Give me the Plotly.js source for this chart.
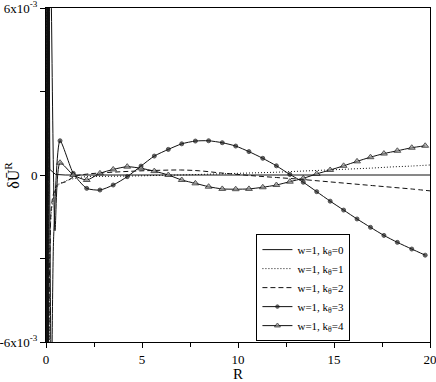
<!DOCTYPE html>
<html>
<head>
<meta charset="utf-8">
<script src="https://cdn.plot.ly/plotly-3.0.1.min.js"></script>
<style>
  html, body { margin: 0; padding: 0; background: #fff; }
  #chart { width: 436px; height: 382px; }
</style>
</head>
<body>
<div id="chart"></div>
<script>
// values in units of 1e-3

// k=0 : flat zero with blow-up at R->0
const k0R = [0.01, 0.04, 0.07, 0.1, 0.14, 0.2, 0.5, 1, 5, 10, 15, 20];
const k0V = [9, -9, 9, -9, 9, 0.2, 0.02, 0, 0, 0, 0, 0];

// k=1 : dotted
const k1R = [0.02, 0.06, 0.1, 0.16, 0.3, 0.6, 0.9, 1.5, 2.1, 3, 4, 5, 6, 7, 8, 9, 10, 11, 12, 13, 14, 15, 16, 17, 18, 19, 20];
const k1V = [9, -9, 9, -6, -1.2, -0.4, -0.25, -0.12, -0.06, -0.05, -0.04, -0.03, -0.01, 0.0, 0.02, 0.04, 0.06, 0.08, 0.1, 0.13, 0.16, 0.19, 0.22, 0.25, 0.29, 0.32, 0.36];

// k=2 : dashed
const k2R = [0.03, 0.08, 0.13, 0.2, 0.35, 0.6, 1.0, 1.5, 2.1, 3, 4, 5, 6, 7, 8, 9, 10, 11, 12, 13, 14, 15, 16, 17, 18, 19, 20];
const k2V = [-9, 9, -9, -3, -0.8, -0.35, -0.25, -0.05, 0.03, 0.08, 0.12, 0.15, 0.17, 0.18, 0.15, 0.08, 0.02, -0.04, -0.09, -0.14, -0.2, -0.26, -0.32, -0.38, -0.44, -0.5, -0.57];

// marker positions shared by k=3 and k=4
const markR = [0.73, 1.42, 2.12, 2.81, 3.5, 4.23, 4.95, 5.64, 6.37, 7.07, 7.78, 8.47, 9.18, 9.88,
  10.57, 11.29, 12.0, 12.7, 13.4, 14.1, 14.8, 15.5, 16.2, 16.9, 17.6, 18.3, 19.05, 19.75];

// k=3 : circles
const k3PreR = [0.03, 0.1, 0.28, 0.4];
const k3PreV = [-9, 9, -8, -2.2];
const k3V = [1.23, 0.06, -0.48, -0.54, -0.36, -0.06, 0.32, 0.68, 0.92, 1.12, 1.22, 1.23, 1.16, 1.04,
  0.84, 0.6, 0.33, 0.02, -0.26, -0.6, -0.94, -1.26, -1.58, -1.88, -2.17, -2.42, -2.66, -2.88];

// k=4 : triangles
const k4PreR = [0.05, 0.12, 0.22, 0.47];
const k4PreV = [9, -9, 9, -2];
const k4V = [0.44, 0.0, -0.18, 0.06, 0.2, 0.3, 0.24, 0.14, 0.0, -0.18, -0.3, -0.42, -0.5, -0.51,
  -0.5, -0.44, -0.36, -0.24, -0.12, 0.04, 0.18, 0.33, 0.49, 0.64, 0.77, 0.87, 0.98, 1.05];

const legendNames = [0, 1, 2, 3, 4].map(k => `w=1, k<sub>θ</sub>=${k}`);

const ink = "#111";

function markedTrace(preR, preV, vals, name, marker) {
  const n = preR.length;
  const x = preR.concat(markR);
  const y = preV.concat(vals);
  return {
    x, y, name,
    type: "scatter",
    mode: "lines+markers",
    line: { color: ink, width: 1, shape: "spline", smoothing: 0.6 },
    marker: Object.assign({}, marker, { size: x.map((_, i) => i < n ? 0 : marker.size) })
  };
}

const traces = [
  { x: k0R, y: k0V, name: legendNames[0], type: "scatter", mode: "lines",
    line: { color: ink, width: 1 } },
  { x: k1R, y: k1V, name: legendNames[1], type: "scatter", mode: "lines",
    line: { color: ink, width: 1, dash: "1px,2px", shape: "spline" } },
  { x: k2R, y: k2V, name: legendNames[2], type: "scatter", mode: "lines",
    line: { color: ink, width: 1, dash: "5px,3px", shape: "spline" } },
  markedTrace(k3PreR, k3PreV, k3V, legendNames[3], { symbol: "circle", size: 4, color: "#222" }),
  markedTrace(k4PreR, k4PreV, k4V, legendNames[4],
    { symbol: "triangle-up", size: 6, color: "#999", line: { color: ink, width: 1 } })
];

const layout = {
  width: 436,
  height: 382,
  margin: { l: 46, r: 6, t: 8, b: 40 },
  paper_bgcolor: "#fff",
  plot_bgcolor: "#fff",
  font: { family: "Liberation Serif", size: 13, color: "#000" },
  showlegend: true,
  legend: {
    x: 0.548, y: 0.323, xanchor: "left", yanchor: "top",
    bgcolor: "#fff", bordercolor: "#000", borderwidth: 1,
    font: { size: 11 }, itemwidth: 30, tracegroupgap: 0
  },
  xaxis: {
    range: [0, 20],
    tickmode: "linear", tick0: 0, dtick: 5,
    ticks: "outside", ticklen: 5, tickcolor: "#000",
    ticklabeloverflow: "allow",
    minor: { dtick: 2.5, ticks: "outside", ticklen: 4, tickcolor: "#000" },
    showline: true, mirror: true, linecolor: "#000", linewidth: 1,
    showgrid: false, zeroline: false,
    title: { text: "R", font: { size: 15 }, standoff: 2 }
  },
  yaxis: {
    range: [-6, 6],
    tickmode: "array",
    tickvals: [-6, 0, 6],
    ticktext: ["-6x10<sup>-3</sup>", "0", "6x10<sup>-3</sup>"],
    ticks: "outside", ticklen: 5, tickcolor: "#000",
    ticklabeloverflow: "allow",
    minor: { dtick: 3, tick0: 0, ticks: "outside", ticklen: 5, tickcolor: "#000" },
    showline: true, mirror: true, linecolor: "#000", linewidth: 1,
    showgrid: false, zeroline: false
  },
  annotations: [{
    xref: "paper", yref: "paper", x: -0.089, y: 0.5,
    xanchor: "center", yanchor: "middle",
    text: "δŪ<sup>R</sup>", textangle: -90, showarrow: false,
    font: { size: 16 }
  }]
};

Plotly.newPlot("chart", traces, layout, { displayModeBar: false, staticPlot: true });
</script>
</body>
</html>
